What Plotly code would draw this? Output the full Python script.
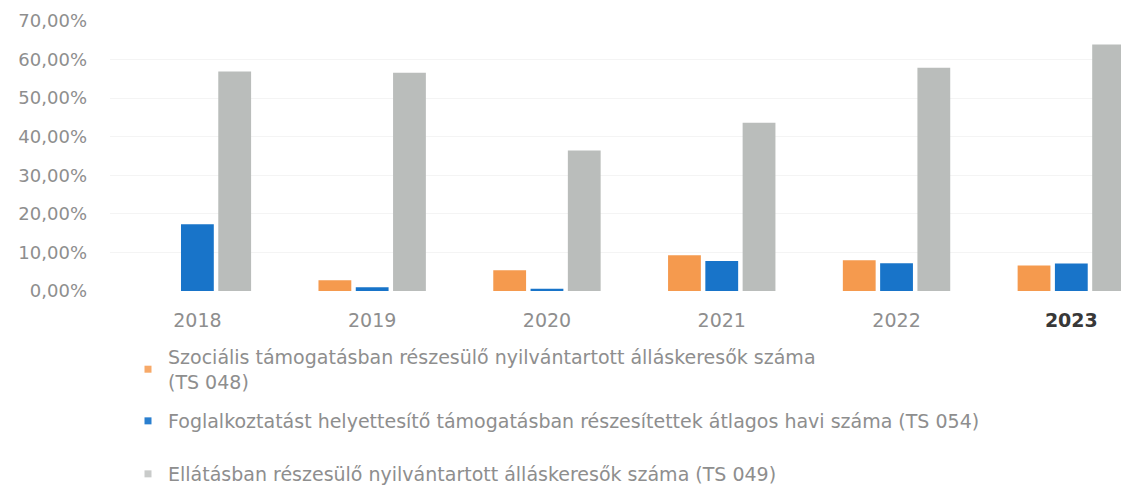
import plotly.graph_objects as go

years = ["2018", "2019", "2020", "2021", "2022", "2023"]
year_labels = ["2018", "2019", "2020", "2021", "2022",
               "<span style='color:#383838'><b>2023</b></span>"]
ts048 = [0.0, 2.8, 5.4, 9.3, 8.0, 6.6]
ts054 = [17.3, 1.0, 0.6, 7.8, 7.2, 7.1]
ts049 = [56.9, 56.6, 36.4, 43.6, 57.9, 63.9]
names = [
    "Szociális támogatásban részesülő nyilvántartott álláskeresők száma<br>(TS 048)",
    "Foglalkoztatást helyettesítő támogatásban részesítettek átlagos havi száma (TS 054)",
    "Ellátásban részesülő nyilvántartott álláskeresők száma (TS 049)",
]
colors = ["#F59A4E", "#1874C9", "#BABDBB"]
legend_marker_colors = ["#F7A968", "#2A7FCF", "#C9CBCA"]
y_ticks = [0, 10, 20, 30, 40, 50, 60, 70]
y_ticktext = ["0,00%", "10,00%", "20,00%", "30,00%", "40,00%", "50,00%", "60,00%", "70,00%"]

W, H = 1121, 478

fig = go.Figure()
for vals, c in zip([ts048, ts054, ts049], colors):
    fig.add_trace(go.Bar(x=years, y=vals, marker=dict(color=c, line=dict(width=0)),
                         showlegend=False))

legend_ids = ["legend", "legend2", "legend3"]
for n, c, lid in zip(names, legend_marker_colors, legend_ids):
    fig.add_trace(go.Scatter(x=[None], y=[None], mode="markers", name=n,
                             marker=dict(symbol="square", size=7, color=c),
                             legend=lid, showlegend=True))

font_fam = "DejaVu Sans"
txt_col = "#8E8E8E"
leg_common = dict(xref="container", yref="container", xanchor="left", yanchor="top",
                  bgcolor="rgba(0,0,0,0)", itemwidth=30,
                  font=dict(family=font_fam, size=19, color=txt_col))
fig.update_layout(
    width=W, height=H,
    margin=dict(l=102, r=0, t=13, b=195, autoexpand=False),
    paper_bgcolor="white", plot_bgcolor="white",
    barmode="group", bargap=0.36, bargroupgap=0.12,
    font=dict(family=font_fam, color=txt_col),
    xaxis=dict(range=[-0.5, 5.33], tickmode="array", tickvals=years, ticktext=year_labels,
               showgrid=False, zeroline=False, showline=False, ticks="", tickangle=0,
               tickfont=dict(size=19, color=txt_col), ticklabelstandoff=16),
    yaxis=dict(range=[0, 70], tickmode="array", tickvals=y_ticks, ticktext=y_ticktext,
               showgrid=True, gridcolor="#F4F4F4", zeroline=False, showline=False, ticks="",
               tickfont=dict(size=18, color=txt_col), ticklabelstandoff=22),
    legend=dict(x=120 / W, y=1 - 330 / H, **leg_common),
    legend2=dict(x=120 / W, y=1 - 394 / H, **leg_common),
    legend3=dict(x=120 / W, y=1 - 447 / H, **leg_common),
)
fig.write_html("out.html")
